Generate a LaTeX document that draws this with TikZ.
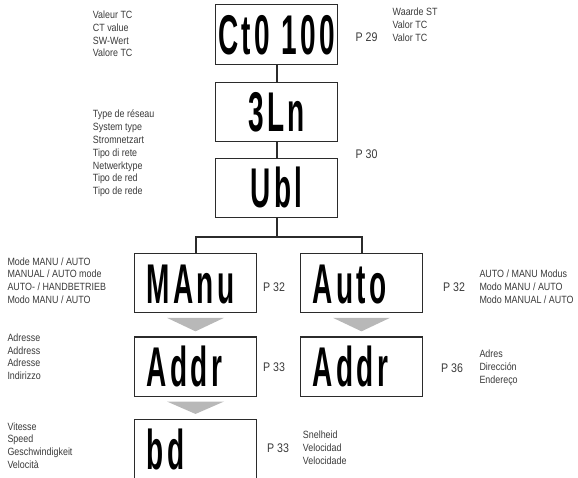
\documentclass[tikz,border=0pt]{standalone}
\usepackage{fontspec}
\setmainfont{Liberation Sans}[FakeStretch=0.85]
\newfontfamily\segfont{Liberation Sans}[FakeStretch=0.5, LetterSpace=6]
\usetikzlibrary{positioning}
\definecolor{dg-line}{HTML}{2B2B2B}
\definecolor{dg-text}{HTML}{3A3A3A}
\definecolor{dg-arrow}{HTML}{B8B8B8}

\begin{document}
\begin{tikzpicture}[
    x=1pt, y=1pt,
    disp/.style={draw=dg-line, line width=1.2pt, fill=white, minimum width=121.5pt, minimum height=59.5pt, inner sep=0pt, text height=40pt, text depth=0pt, align=center, font=\fontsize{56}{60}\segfont\bfseries},
    displeft/.style={disp, text width=97.5pt, align=left, inner xsep=12pt},
    conn/.style={draw=dg-line, line width=2pt},
    tri/.style={fill=dg-arrow},
    txt/.style={anchor=west, inner sep=0pt, align=left, text=dg-text, font=\fontsize{10.5}{12.8}\selectfont},
    pg/.style={anchor=west, inner sep=0pt, text=dg-text, font=\fontsize{12.5}{14}\selectfont}
]
\useasboundingbox (0,0) rectangle (578,-478);

% =========================================================================
% DISPLAYS: CT VALUE, SYSTEM TYPE
% =========================================================================
\node[disp] (ct)  at (276.5, -34.5) {Ct0 100};
\node[disp] (ln)  at (276.5, -112)  {3Ln};
\node[disp] (ubl) at (276.5, -188)  {Ubl};

\draw[conn] (ct) -- (ln);
\draw[conn] (ln) -- (ubl);

\node[txt] (ct_l) at (92.7, -34) {Valeur TC\\CT value\\SW-Wert\\Valore TC};
\node[txt] (ct_r) at (392.5, -24.5) {Waarde ST\\Valor TC\\Valor TC};
\node[pg]  (p29)  at (355.5, -37) {P 29};

\node[txt] (net_l) at (92.7, -153.5) {Type de réseau\\System type\\Stromnetzart\\Tipo di rete\\Netwerktype\\Tipo de red\\Tipo de rede};
\node[pg]  (p30)   at (355.5, -154) {P 30};


% =========================================================================
% BRANCH: MANU / AUTO
% =========================================================================
\node[displeft] (manu) at (195.5, -283) {MAnu};
\node[displeft] (auto) at (361.5, -283) {Auto};

\coordinate[below=18.7pt of ubl.south] (fork);
\draw[conn] (ubl) -- (fork);
\draw[conn] (manu.north) |- (fork) -| (auto.north);

\node[txt] (manu_l) at (7.3, -280.5) {Mode MANU / AUTO\\MANUAL / AUTO mode\\AUTO- / HANDBETRIEB\\Modo MANU / AUTO};
\node[pg]  (p32a)   at (263, -287) {P 32};
\node[pg]  (p32b)   at (443, -287) {P 32};
\node[txt] (auto_r) at (479.3, -287) {AUTO / MANU Modus\\Modo MANU / AUTO\\Modo MANUAL / AUTO};


% =========================================================================
% ADDRESS
% =========================================================================
\node[displeft] (addr_l) at (195.5, -366.7) {Addr};
\node[displeft] (addr_r) at (361.5, -366.7) {Addr};

\fill[tri] ([xshift=-28.5pt, yshift=-4.5pt]manu.south) -- ([xshift=28.5pt, yshift=-4.5pt]manu.south) -- ([yshift=5pt]addr_l.north) -- cycle;
\fill[tri] ([xshift=-28.5pt, yshift=-4.5pt]auto.south) -- ([xshift=28.5pt, yshift=-4.5pt]auto.south) -- ([yshift=5pt]addr_r.north) -- cycle;

\node[txt] (addr_ll) at (7.3, -356.7) {Adresse\\Address\\Adresse\\Indirizzo};
\node[pg]  (p33a)    at (263, -367) {P 33};
\node[pg]  (p36)     at (441, -368) {P 36};
\node[txt] (addr_rr) at (479.3, -368) {Adres\\Dirección\\Endereço};


% =========================================================================
% SPEED
% =========================================================================
\node[displeft] (bd) at (195.5, -449.3) {bd};

\fill[tri] ([xshift=-28.5pt, yshift=-4.5pt]addr_l.south) -- ([xshift=28.5pt, yshift=-4.5pt]addr_l.south) -- ([yshift=5pt]bd.north) -- cycle;

\node[txt] (bd_l) at (7.3, -445.5) {Vitesse\\Speed\\Geschwindigkeit\\Velocità};
\node[pg]  (p33b) at (267, -448) {P 33};
\node[txt] (bd_r) at (302.7, -448) {Snelheid\\Velocidad\\Velocidade};

\end{tikzpicture}
\end{document}
